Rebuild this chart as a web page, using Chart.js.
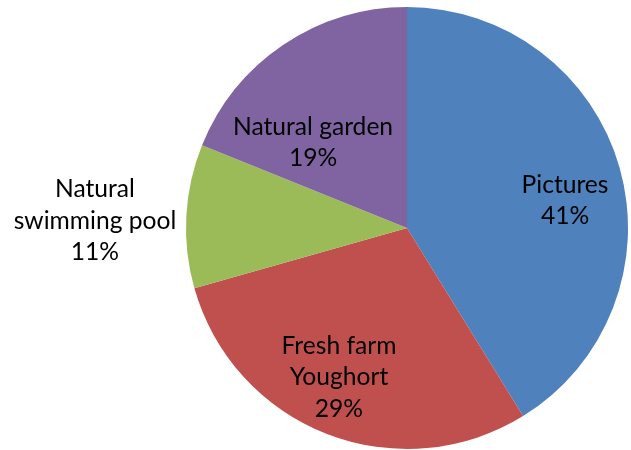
<!DOCTYPE html>
<html>
<head>
<meta charset="utf-8">
<script src="https://cdn.jsdelivr.net/npm/chart.js@4"></script>
<style>
  html, body { margin: 0; padding: 0; background: #fff; }
  #wrap { width: 631px; height: 450px; position: relative; }
</style>
</head>
<body>
<div id="wrap"><canvas id="pie"></canvas></div>
<script>
// Daten
const kategorien = ['Pictures', 'Fresh farm Youghort', 'Natural swimming pool', 'Natural garden'];
const kategorieZeilen = [['Pictures'], ['Fresh farm', 'Youghort'], ['Natural', 'swimming pool'], ['Natural garden']];
const anteile = [41.2, 29.4, 10.5, 18.9]; // aus den Segmentwinkeln geschaetzt
const prozentText = ['41%', '29%', '11%', '19%'];
const farben = ['#4F81BD', '#C0504D', '#9BBB59', '#8064A2'];

// Lage der Beschriftungen relativ zum Radius (dx, dy)
const labelLage = [[0.715, -0.127], [-0.308, 0.674], [-1.412, -0.036], [-0.425, -0.389]];

const beschriftung = {
  id: 'beschriftung',
  afterDatasetsDraw(chart) {
    const ctx = chart.ctx;
    const meta = chart.getDatasetMeta(0);
    const lh = 31.5;
    ctx.save();
    ctx.font = '24.6px Lato, "Noto Sans", sans-serif';
    ctx.fillStyle = '#000';
    ctx.textAlign = 'center';
    ctx.textBaseline = 'alphabetic';
    meta.data.forEach((arc, i) => {
      const r = arc.outerRadius;
      const mx = arc.x + labelLage[i][0] * r;
      const my = arc.y + labelLage[i][1] * r;
      const zeilen = kategorieZeilen[i].concat([prozentText[i]]);
      const n = zeilen.length;
      zeilen.forEach((z, k) => {
        ctx.fillText(z, mx, my + (k - (n - 1) / 2) * lh + 8.5);
      });
    });
    ctx.restore();
  }
};

new Chart(document.getElementById('pie'), {
  type: 'pie',
  data: {
    labels: kategorien,
    datasets: [{
      data: anteile,
      backgroundColor: farben,
      borderWidth: 0
    }]
  },
  options: {
    responsive: true,
    maintainAspectRatio: false,
    animation: false,
    layout: { padding: { left: 186, right: 3, top: 7, bottom: 1 } },
    plugins: {
      legend: { display: false },
      tooltip: { enabled: false }
    }
  },
  plugins: [beschriftung]
});
</script>
</body>
</html>
